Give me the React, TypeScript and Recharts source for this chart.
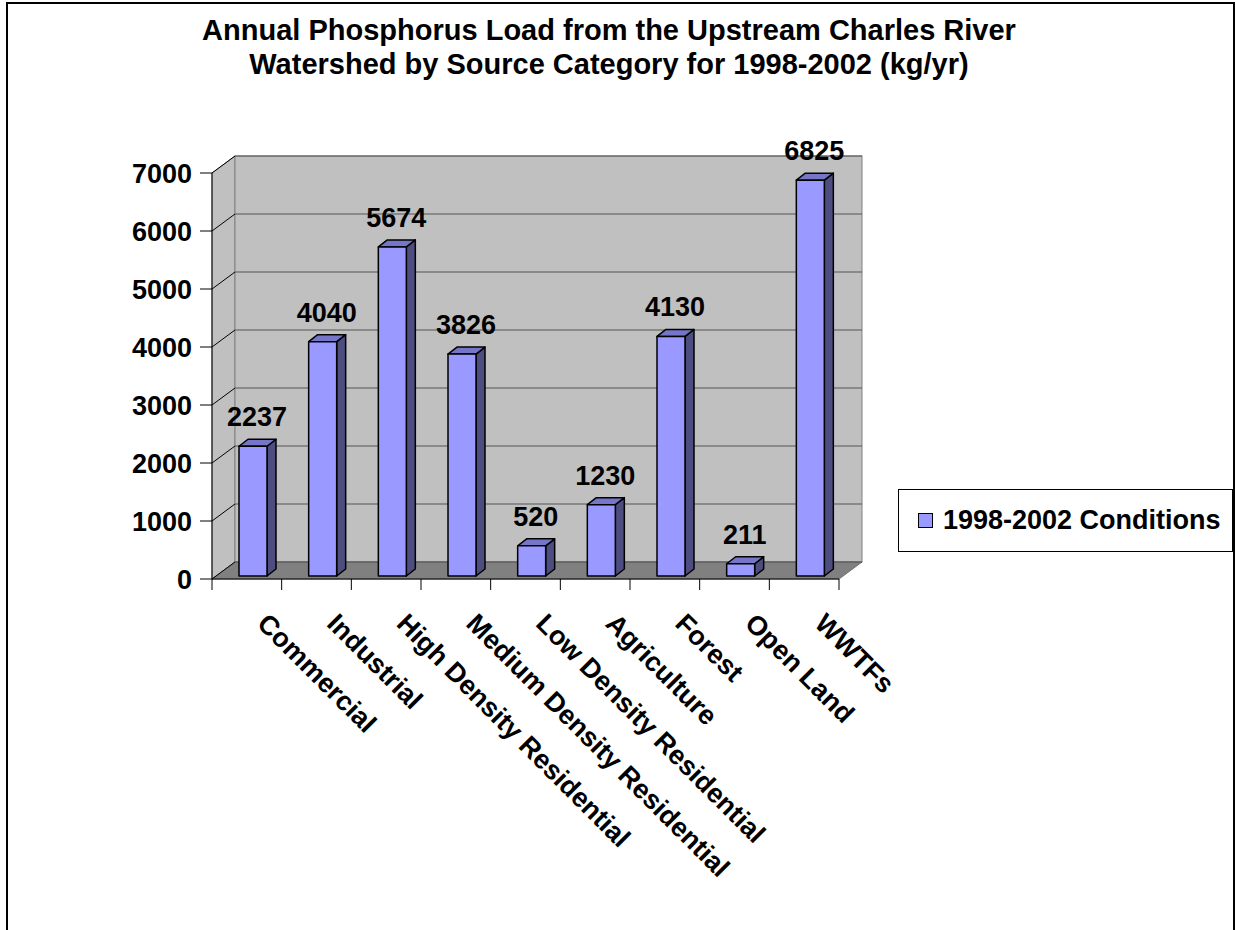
import React from 'react';
import {
  BarChart, Bar, XAxis, YAxis, CartesianGrid, ReferenceArea, LabelList, Legend,
} from 'recharts';

const categories = [
  'Commercial',
  'Industrial',
  'High Density Residential',
  'Medium Density Residential',
  'Low Density Residential',
  'Agriculture',
  'Forest',
  'Open Land',
  'WWTFs',
];
const loads = [2237, 4040, 5674, 3826, 520, 1230, 4130, 211, 6825];
const yTicks = [0, 1000, 2000, 3000, 4000, 5000, 6000, 7000];
const seriesName = '1998-2002 Conditions';

const data = categories.map((name, i) => ({ name, load: loads[i] }));

const FONT = '"Liberation Sans", Arial, sans-serif';

// depth of the walls and of each box
const WALL_DX = 23;
const WALL_DY = -17;
const BAR_SX = 6;
const BAR_SY = -3;
const BAR_DX = 9;
const BAR_DY = -7;

const Walls = (props: any) => {
  const { x, y, width: w, height: h } = props;
  return (
    <g>
      <polygon
        points={`${x},${y} ${x + WALL_DX},${y + WALL_DY} ${x + WALL_DX},${y + h + WALL_DY} ${x},${y + h}`}
        fill="#c0c0c0"
        stroke="#808080"
      />
      <rect x={x + WALL_DX} y={y + WALL_DY} width={w} height={h} fill="#c0c0c0" stroke="#808080" />
      <polygon
        points={`${x},${y + h} ${x + WALL_DX},${y + h + WALL_DY} ${x + w + WALL_DX},${y + h + WALL_DY} ${x + w},${y + h}`}
        fill="#808080"
        stroke="#707070"
      />
    </g>
  );
};

const gridLine = (props: any) => {
  const { x1, y1, x2, y2, index } = props;
  return (
    <g key={`g-${index}-${y1}`}>
      <line x1={x1 + WALL_DX} y1={y1 + WALL_DY} x2={x2 + WALL_DX} y2={y2 + WALL_DY} stroke="#555" />
      <line x1={x1} y1={y1} x2={x1 + WALL_DX} y2={y1 + WALL_DY} stroke="#000" />
    </g>
  );
};

const Box3D = (props: any) => {
  const { x, y, width, height, fill } = props;
  if (height == null || width == null) return null;
  const fx = x + BAR_SX;
  const fy = y + BAR_SY;
  return (
    <g stroke="#000" strokeWidth={1.5} strokeLinejoin="round">
      <polygon
        points={`${fx + width},${fy} ${fx + width + BAR_DX},${fy + BAR_DY} ${fx + width + BAR_DX},${fy + height + BAR_DY} ${fx + width},${fy + height}`}
        fill="#4d4d80"
      />
      <polygon
        points={`${fx},${fy} ${fx + BAR_DX},${fy + BAR_DY} ${fx + width + BAR_DX},${fy + BAR_DY} ${fx + width},${fy}`}
        fill="#7676c8"
      />
      <rect x={fx} y={fy} width={width} height={height} fill={fill} />
    </g>
  );
};

const ValueLabel = (props: any) => {
  const vb = props.viewBox ?? props;
  const { x, y, width } = vb;
  return (
    <text
      x={x + width / 2 + BAR_SX + 4}
      y={y + BAR_SY - 20}
      textAnchor="middle"
      fontFamily={FONT}
      fontWeight="bold"
      fontSize={27}
      fill="#000"
    >
      {props.value}
    </text>
  );
};

const CategoryTick = (props: any) => {
  const { x, y, payload, index } = props;
  const half = payload?.offset ?? 34.8;
  return (
    <g>
      <line x1={x - half} y1={y} x2={x - half} y2={y + 11} stroke="#000" />
      {index === categories.length - 1 && (
        <line x1={x + half} y1={y} x2={x + half} y2={y + 11} stroke="#000" />
      )}
      <g transform={`translate(${x + 9},${y + 46}) rotate(45)`}>
        <text x={0} y={0} textAnchor="start" fontFamily={FONT} fontWeight="bold" fontSize={27} fill="#000">
          {payload.value}
        </text>
      </g>
    </g>
  );
};

const LegendBox = (props: any) => {
  const entry = props.payload?.[0];
  return (
    <div
      style={{
        boxSizing: 'border-box',
        width: 335,
        height: 63,
        border: '1px solid #000',
        background: '#fff',
        display: 'flex',
        alignItems: 'center',
        paddingLeft: 19,
        fontFamily: FONT,
        fontWeight: 'bold',
        fontSize: 27,
        color: '#000',
      }}
    >
      <span
        style={{
          display: 'inline-block',
          width: 13,
          height: 13,
          background: entry?.color ?? '#9999ff',
          border: '1px solid #000',
          marginRight: 10,
        }}
      />
      {entry?.value}
    </div>
  );
};

export default function App() {
  return (
    <div style={{ position: 'absolute', left: 0, top: 0, width: 1235, height: 930, background: '#fff', overflow: 'hidden' }}>
      <div
        style={{
          position: 'absolute',
          left: 6,
          top: 2,
          width: 1225,
          height: 940,
          borderLeft: '2px solid #000',
          borderTop: '2px solid #000',
          borderRight: '2px solid #000',
        }}
      />
      <div
        style={{
          position: 'absolute',
          left: 0,
          top: 13,
          width: 1218,
          textAlign: 'center',
          fontFamily: FONT,
          fontWeight: 'bold',
          fontSize: 29,
          lineHeight: '34px',
          color: '#000',
        }}
      >
        Annual Phosphorus Load from the Upstream Charles River
        <br />
        Watershed by Source Category for 1998-2002 (kg/yr)
      </div>
      <div style={{ position: 'absolute', left: 0, top: 0 }}>
        <BarChart
          width={1235}
          height={930}
          data={data}
          margin={{ top: 173, right: 396, bottom: 291, left: 132 }}
        >
          <ReferenceArea y1={0} y2={7000} ifOverflow="visible" shape={Walls} zIndex={-200} />
          <CartesianGrid vertical={false} horizontal={gridLine} />
          <XAxis
            dataKey="name"
            height={60}
            interval={0}
            tickLine={false}
            tickSize={0}
            tickMargin={0}
            axisLine={{ stroke: '#000' }}
            tick={CategoryTick}
          />
          <YAxis
            width={80}
            domain={[0, 7000]}
            ticks={yTicks}
            interval={0}
            tickSize={12}
            tickMargin={8}
            axisLine={{ stroke: '#000' }}
            tickLine={{ stroke: '#000' }}
            tick={{ fontFamily: FONT, fontWeight: 'bold', fontSize: 27, fill: '#000' }}
          />
          <Legend
            layout="horizontal"
            align="center"
            verticalAlign="middle"
            content={LegendBox}
            wrapperStyle={{ left: 898, top: 489, width: 335, height: 63 }}
          />
          <Bar
            dataKey="load"
            name={seriesName}
            fill="#9999ff"
            barSize={28}
            shape={Box3D}
            isAnimationActive={false}
          >
            <LabelList dataKey="load" content={ValueLabel} />
          </Bar>
        </BarChart>
      </div>
    </div>
  );
}
